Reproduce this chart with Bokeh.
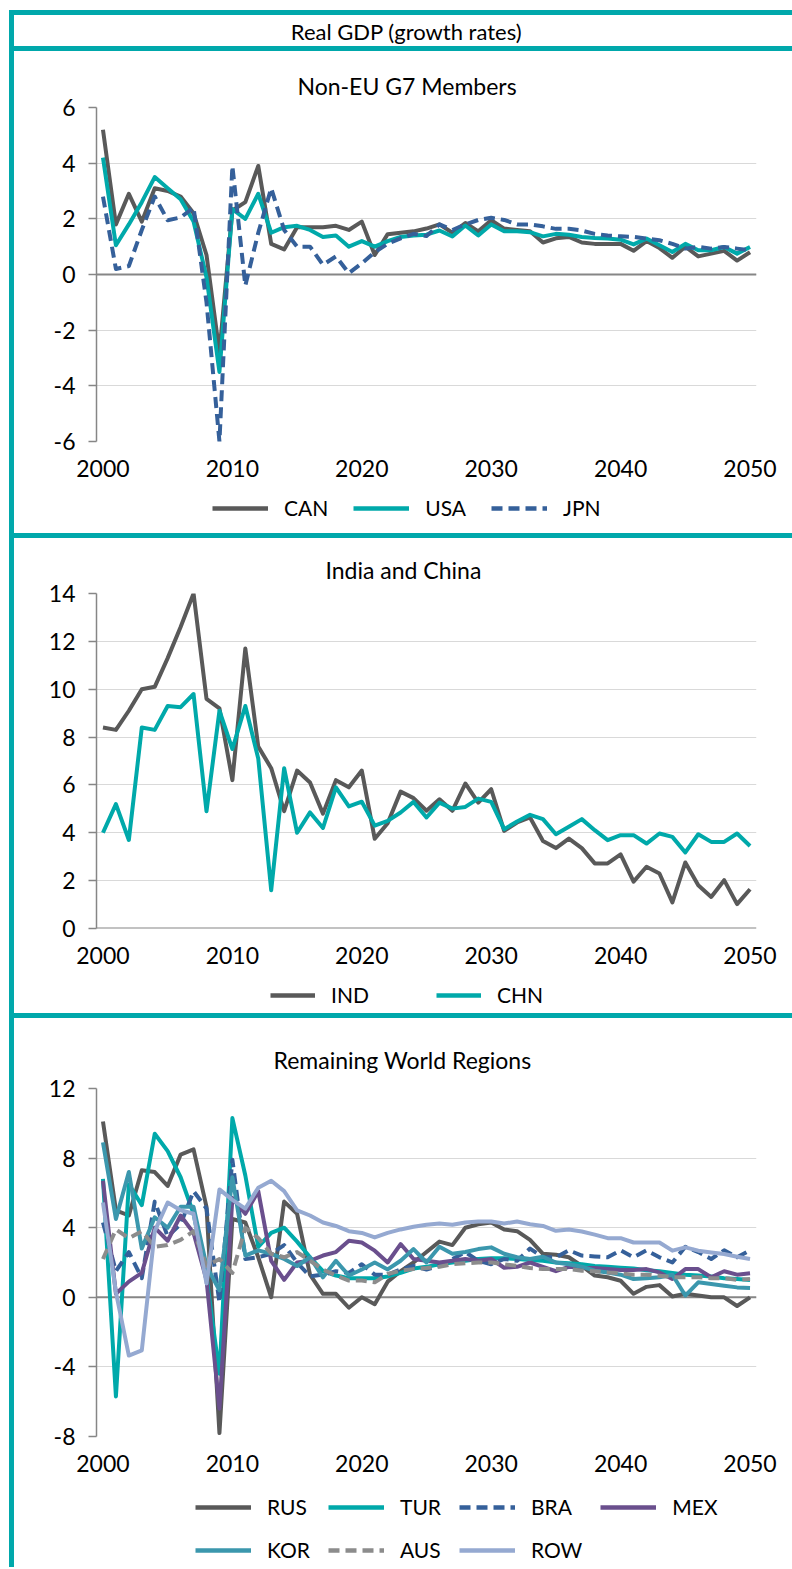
from bokeh.plotting import figure
from bokeh.models import (Range1d, FixedTicker, PrintfTickFormatter, Span, Legend,
                          LegendItem, Label, ColumnDataSource)
from bokeh.layouts import column
from bokeh.embed import file_html
from bokeh.resources import INLINE

# ---------------- data ----------------
YEARS = list(range(2000, 2051))
X_TICKS = [2000, 2010, 2020, 2030, 2040, 2050]

CAN = [5.2, 1.8, 2.9, 1.9, 3.1, 3.0, 2.8, 2.2, 0.7, -2.8,
       2.3, 2.6, 3.9, 1.1, 0.9, 1.7, 1.7, 1.7, 1.75, 1.6,
       1.9, 0.7, 1.45, 1.5, 1.55, 1.65, 1.8, 1.5, 1.85, 1.55,
       1.95, 1.65, 1.6, 1.55, 1.15, 1.3, 1.35, 1.15, 1.1, 1.1,
       1.1, 0.85, 1.2, 0.95, 0.6, 1.0, 0.65, 0.75, 0.85, 0.5, 0.8]
USA = [4.2, 1.05, 1.8, 2.6, 3.5, 3.1, 2.7, 1.9, -0.1, -3.5,
       2.35, 2.0, 2.9, 1.5, 1.7, 1.75, 1.6, 1.35, 1.4, 1.0,
       1.2, 1.0, 1.2, 1.35, 1.4, 1.43, 1.58, 1.37, 1.76, 1.4,
       1.8, 1.55, 1.55, 1.52, 1.37, 1.46, 1.43, 1.35, 1.31, 1.29,
       1.25, 1.08, 1.29, 1.05, 0.81, 1.1, 0.87, 0.87, 0.99, 0.75, 0.99]
JPN = [2.8, 0.2, 0.3, 1.6, 2.8, 1.95, 2.05, 2.4, -1.0, -6.0,
       3.9, -0.4, 1.5, 3.1, 1.6, 1.0, 1.0, 0.35, 0.65, 0.05,
       0.4, 0.8, 1.1, 1.3, 1.46, 1.38, 1.8, 1.6, 1.8, 1.96,
       2.04, 1.96, 1.8, 1.8, 1.73, 1.64, 1.64, 1.58, 1.46, 1.4,
       1.37, 1.35, 1.29, 1.23, 1.1, 0.93, 0.99, 0.93, 0.99, 0.93, 0.87]

IND = [8.4, 8.3, 9.1, 10.0, 10.1, 11.3, 12.6, 14.0, 9.6, 9.2,
       6.2, 11.7, 7.6, 6.7, 4.9, 6.6, 6.1, 4.8, 6.2, 5.9,
       6.6, 3.75, 4.4, 5.72, 5.45, 4.92, 5.4, 4.92, 6.06, 5.26,
       5.82, 4.08, 4.43, 4.64, 3.66, 3.36, 3.76, 3.36, 2.72, 2.72,
       3.1, 1.96, 2.58, 2.3, 1.09, 2.76, 1.81, 1.32, 2.02, 1.02, 1.64]
CHN = [4.0, 5.2, 3.7, 8.4, 8.3, 9.3, 9.25, 9.8, 4.9, 9.1,
       7.5, 9.3, 7.1, 1.6, 6.7, 4.0, 4.85, 4.2, 5.9, 5.1,
       5.3, 4.3, 4.5, 4.85, 5.29, 4.64, 5.26, 5.01, 5.08, 5.43,
       5.29, 4.15, 4.47, 4.75, 4.57, 3.94, 4.25, 4.57, 4.11, 3.69,
       3.9, 3.9, 3.55, 3.97, 3.83, 3.18, 3.94, 3.62, 3.62, 3.97, 3.45]

RUS = [10.1, 5.0, 4.7, 7.3, 7.2, 6.4, 8.2, 8.5, 5.2, -7.8,
       4.5, 4.3, 2.3, 0.0, 5.5, 4.8, 1.3, 0.2, 0.2, -0.6,
       0.0, -0.4, 0.9, 1.5, 2.0, 2.6, 3.2, 3.0, 4.0, 4.2,
       4.3, 3.9, 3.8, 3.3, 2.5, 2.45, 2.3, 1.8, 1.25, 1.15,
       0.95, 0.2, 0.6, 0.7, 0.05, 0.2, 0.1, 0.0, 0.0, -0.5, 0.0]
TUR = [6.8, -5.7, 6.5, 5.3, 9.4, 8.4, 6.9, 4.8, 1.2, -4.4,
       10.3, 7.0, 2.9, 3.7, 4.0, 3.2, 2.3, 1.5, 1.25, 1.1,
       1.1, 1.1, 1.2, 1.4, 1.65, 1.75, 1.9, 2.0, 2.1, 2.2,
       2.25, 2.25, 2.2, 2.15, 2.1, 2.0, 1.95, 1.9, 1.8, 1.75,
       1.7, 1.65, 1.55, 1.5, 1.4, 1.3, 1.25, 1.2, 1.1, 1.05, 1.0]
BRA = [4.3, 1.5, 2.6, 1.1, 5.5, 3.5, 4.2, 6.1, 5.1, -0.3,
       7.9, 2.2, 2.3, 2.5, 3.0, 2.0, 1.2, 1.3, 1.5, 1.4,
       1.9, 1.3, 1.3, 1.6, 1.8, 1.6, 1.8, 2.2, 2.6, 2.1,
       1.9, 2.2, 2.1, 2.8, 2.3, 2.3, 2.7, 2.4, 2.35, 2.3,
       2.7, 2.3, 2.7, 2.3, 2.0, 2.9, 2.6, 2.2, 2.7, 2.3, 2.7]
MEX = [6.7, 0.2, 0.9, 1.4, 4.0, 3.25, 4.7, 3.7, 1.0, -6.4,
       5.7, 4.8, 6.1, 2.1, 1.0, 2.0, 2.1, 2.4, 2.6, 3.25,
       3.15, 2.68, 2.0, 3.06, 2.2, 2.1, 2.0, 2.1, 2.2, 2.1,
       2.2, 1.7, 1.75, 2.0, 1.75, 1.5, 1.75, 1.68, 1.68, 1.62,
       1.57, 1.57, 1.62, 1.43, 1.05, 1.62, 1.62, 1.15, 1.5, 1.3, 1.38]
KOR = [8.9, 4.5, 7.2, 2.8, 4.6, 4.0, 5.2, 5.2, 1.8, 0.4,
       6.9, 2.4, 2.7, 2.5, 2.2, 1.8, 2.3, 1.15, 2.1, 1.25,
       1.6, 2.0, 1.6, 2.1, 2.77, 2.0, 2.9, 2.5, 2.6, 2.77,
       2.87, 2.5, 2.3, 2.2, 2.33, 2.0, 1.9, 1.76, 1.53, 1.43,
       1.3, 1.05, 1.1, 1.15, 1.3, 0.1, 0.86, 0.76, 0.67, 0.57, 0.54]
AUS = [2.2, 3.9, 3.4, 3.8, 2.9, 3.0, 3.3, 3.8, 1.8, 2.2,
       1.4, 4.0, 3.4, 2.5, 2.3, 2.6, 2.1, 1.6, 1.25, 0.96,
       0.96, 0.86, 1.34, 1.53, 1.62, 1.68, 1.76, 1.9, 1.95, 2.0,
       2.0, 1.9, 1.8, 1.68, 1.62, 1.62, 1.62, 1.53, 1.5, 1.43,
       1.38, 1.3, 1.3, 1.24, 1.15, 1.15, 1.15, 1.1, 1.1, 1.0, 1.05]
ROW = [5.45, 0.3, -3.35, -3.05, 3.8, 5.45, 5.0, 4.8, 0.8, 6.2,
       5.6, 5.1, 6.3, 6.7, 6.1, 5.0, 4.7, 4.3, 4.1, 3.8,
       3.7, 3.44, 3.7, 3.9, 4.05, 4.17, 4.24, 4.17, 4.3, 4.36,
       4.36, 4.24, 4.36, 4.2, 4.1, 3.82, 3.9, 3.78, 3.6, 3.4,
       3.4, 3.15, 3.15, 3.15, 2.68, 2.87, 2.68, 2.58, 2.49, 2.33, 2.2]

# ---------------- style ----------------
FONT = "Lato"
FRAME_TEAL = "#00A8AB"
C_DARK = "#595959"
C_TEAL = "#00A9AA"
C_BLUE = "#35609A"
C_PURPLE = "#6A4F8D"
C_STEEL = "#3B97AD"
C_GRAY = "#8C8C8C"
C_LIGHT = "#95A9D1"
AXIS_GRAY = "#868686"
GRID_GRAY = "#D9D9D9"
DASH = "11 6"
TICK_FS = "23px"
TITLE_FS = "23px"
LEG_FS = "21px"

W = 778
FRAME_L = 82
FRAME_W = 660
FRAME_R = W - FRAME_L - FRAME_W
BOTTOM = 46
WHITE = {"background-color": "white"}


def chart(title, top, frame_h, yr, yticks, series, title_standoff, title_offset):
    p = figure(width=W, height=top + frame_h + BOTTOM, title=title,
               x_range=Range1d(1999.5, 2050.5), y_range=Range1d(*yr),
               output_backend="svg", toolbar_location=None,
               min_border_left=FRAME_L, min_border_right=FRAME_R,
               min_border_top=top, min_border_bottom=BOTTOM, styles=WHITE)
    p.title.align = "left"
    p.title.offset = title_offset
    p.title.text_font = FONT
    p.title.text_font_size = TITLE_FS
    p.title.text_font_style = "normal"
    p.title.text_color = "black"
    p.title.standoff = title_standoff
    p.outline_line_color = None
    p.background_fill_color = "white"
    p.border_fill_color = "white"

    p.xgrid.visible = False
    p.ygrid.grid_line_color = GRID_GRAY
    p.ygrid.grid_line_width = 1

    xa = p.xaxis[0]
    xa.ticker = FixedTicker(ticks=X_TICKS)
    xa.formatter = PrintfTickFormatter(format="%d")
    xa.axis_line_color = None
    xa.major_tick_line_color = None
    xa.minor_tick_line_color = None
    xa.major_tick_out = 0
    xa.major_tick_in = 0
    xa.major_label_standoff = 18
    xa.major_label_text_font = FONT
    xa.major_label_text_font_size = TICK_FS
    xa.major_label_text_color = "black"

    ya = p.yaxis[0]
    ya.ticker = FixedTicker(ticks=yticks)
    ya.formatter = PrintfTickFormatter(format="%d")
    ya.axis_line_color = AXIS_GRAY
    ya.axis_line_width = 1.5
    ya.major_tick_line_color = AXIS_GRAY
    ya.major_tick_line_width = 1.5
    ya.major_tick_out = 8
    ya.major_tick_in = 0
    ya.minor_tick_line_color = None
    ya.major_label_standoff = 13
    ya.major_label_text_font = FONT
    ya.major_label_text_font_size = TICK_FS
    ya.major_label_text_color = "black"

    p.add_layout(Span(location=0, dimension="width", line_color=AXIS_GRAY,
                      line_width=2, level="underlay"))

    for name, src, color, dash in series:
        p.line("year", "v", source=src, line_color=color, line_width=4,
               line_dash=dash, line_join="round")
    return p


def legend_strip(height, series, leg_x, leg_y, spacing, glyph_w, ncols):
    # separate strip for the legend (a legend below a chart's frame gets clipped);
    # its x range lies far from the years, so the series lines stay out of view
    lg = figure(width=W, height=height, x_range=Range1d(0, 1), y_range=Range1d(0, 1),
                output_backend="svg", toolbar_location=None,
                min_border_left=FRAME_L, min_border_right=FRAME_R,
                min_border_top=0, min_border_bottom=0,
                x_axis_type=None, y_axis_type=None, title=None, styles=WHITE)
    lg.outline_line_color = None
    lg.background_fill_color = "white"
    lg.border_fill_color = "white"
    items = []
    for name, src, color, dash in series:
        r = lg.line("year", "v", source=src, line_color=color, line_width=4.5,
                    line_dash=dash)
        items.append(LegendItem(label=name, renderers=[r]))
    leg = Legend(items=items, location=(leg_x, leg_y), orientation="horizontal",
                 label_text_font=FONT, label_text_font_size=LEG_FS,
                 label_text_color="black", label_height=24, glyph_height=24,
                 glyph_width=glyph_w, label_standoff=16, spacing=spacing,
                 padding=0, margin=0, border_line_color=None,
                 background_fill_alpha=0)
    if ncols:
        leg.ncols = ncols
    lg.add_layout(leg)
    return lg


def src(vals):
    return ColumnDataSource(dict(year=YEARS, v=vals))


header = figure(width=W, height=31, x_range=Range1d(0, 1), y_range=Range1d(0, 1),
                output_backend="svg", toolbar_location=None,
                min_border_left=FRAME_L, min_border_right=FRAME_R,
                min_border_top=0, min_border_bottom=0,
                x_axis_type=None, y_axis_type=None, title=None, styles=WHITE)
header.outline_line_color = None
header.background_fill_color = "white"
header.border_fill_color = "white"
header.add_layout(Label(x=0.4697, y=0.5, text="Real GDP (growth rates)",
                        text_align="center", text_baseline="middle",
                        text_font=FONT, text_font_size="22px", text_color="black"))

S1 = [("CAN", src(CAN), C_DARK, "solid"),
      ("USA", src(USA), C_TEAL, "solid"),
      ("JPN", src(JPN), C_BLUE, DASH)]
S2 = [("IND", src(IND), C_DARK, "solid"),
      ("CHN", src(CHN), C_TEAL, "solid")]
S3 = [("RUS", src(RUS), C_DARK, "solid"),
      ("TUR", src(TUR), C_TEAL, "solid"),
      ("BRA", src(BRA), C_BLUE, DASH),
      ("MEX", src(MEX), C_PURPLE, "solid"),
      ("KOR", src(KOR), C_STEEL, "solid"),
      ("AUS", src(AUS), C_GRAY, DASH),
      ("ROW", src(ROW), C_LIGHT, "solid")]

p1 = chart("Non-EU G7 Members", 56, 334, (-6, 6), list(range(-6, 7, 2)), S1, 16, 201)
l1 = legend_strip(46, S1, 116, 13, 25, 56, None)

p2 = chart("India and China", 55, 335, (0, 14), list(range(0, 15, 2)), S2, 19, 229)
l2 = legend_strip(39, S2, 174, 6, 67, 45, None)

p3 = chart("Remaining World Regions", 70, 348, (-8, 12), list(range(-8, 13, 4)), S3, 29, 177)
l3 = legend_strip(85, S3, 99, 5, 18, 56, 4)

layout = column(header,
                column(p1, l1, spacing=0, styles=WHITE),
                column(p2, l2, spacing=0, styles=WHITE),
                column(p3, l3, spacing=0, styles=WHITE),
                spacing=5,
                styles={"background-color": FRAME_TEAL,
                        "padding-top": "5px", "padding-left": "5px",
                        "margin-left": "9px", "margin-top": "10px"})

open("out.html", "w").write(file_html(layout, INLINE))
